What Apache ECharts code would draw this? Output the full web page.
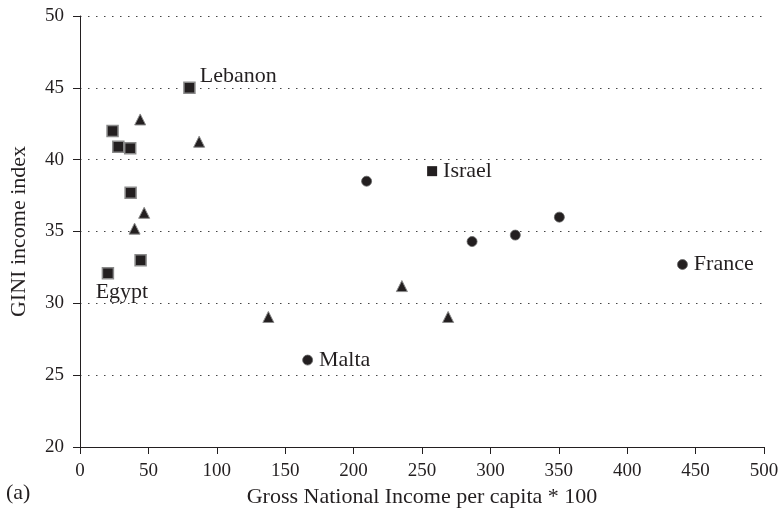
<!DOCTYPE html>
<html><head><meta charset="utf-8">
<script src="https://cdn.jsdelivr.net/npm/echarts@6/dist/echarts.min.js"></script>
<style>html,body{margin:0;padding:0;background:#fff}#c{width:783px;height:519px}</style>
</head><body><div id="c"></div>
<script>
// Squares
const squareX = [80, 23.8, 28, 36.7, 37, 44.3, 20.4, 257.4];
const squareY = [45.0, 42.0, 40.9, 40.8, 37.7, 33.0, 32.1, 39.2];
const squareNames = ['Lebanon', '', '', '', '', '', 'Egypt', 'Israel'];
// Triangles
const triX = [44, 87.1, 46.9, 39.9, 137.7, 235.3, 269.1];
const triY = [42.8, 41.25, 36.3, 35.2, 29.05, 31.2, 29.05];
// Circles
const circX = [209.5, 286.6, 318.2, 350.4, 166.4, 440.4];
const circY = [38.5, 34.3, 34.75, 36.0, 26.05, 32.7];
const circNames = ['', '', '', '', 'Malta', 'France'];
const xTicks = [0, 50, 100, 150, 200, 250, 300, 350, 400, 450, 500];
const yTicks = [20, 25, 30, 35, 40, 45, 50];

const FONT = '"Liberation Serif", "Times New Roman", serif';
const INK = '#231f20';

function labelFor(name) {
  if (!name) return undefined;
  if (name === 'Egypt') return {show: true, position: 'bottom', offset: [14, -3], formatter: name};
  if (name === 'Lebanon') return {show: true, position: 'right', distance: 4, offset: [0, -12], formatter: name};
  return {show: true, position: 'right', distance: 6, formatter: name};
}

const squareData = squareX.map((x, i) => {
  const d = {value: [x, squareY[i]], label: labelFor(squareNames[i])};
  if (squareNames[i] === 'Israel') { d.symbolSize = 10; d.itemStyle = {borderWidth: 0}; }
  return d;
});
const triData = triX.map((x, i) => ({value: [x, triY[i]]}));
const circData = circX.map((x, i) => ({value: [x, circY[i]], label: labelFor(circNames[i])}));

const chart = echarts.init(document.getElementById('c'), null, {renderer: 'canvas'});
const labelStyle = {color: INK, fontFamily: FONT, fontSize: 22};
chart.setOption({
  animation: false,
  backgroundColor: '#fff',
  grid: {left: 79, right: 19, top: 16, bottom: 72, containLabel: false},
  xAxis: {
    type: 'value', min: 0, max: 500, interval: 50,
    name: 'Gross National Income per capita * 100', nameLocation: 'middle', nameGap: 36,
    nameTextStyle: {color: INK, fontFamily: FONT, fontSize: 22},
    axisLine: {show: true, lineStyle: {color: INK, width: 1}},
    axisTick: {show: true, length: 7, lineStyle: {color: INK}},
    axisLabel: {color: INK, fontFamily: FONT, fontSize: 19, margin: 15,
      formatter: v => xTicks.includes(v) ? String(v) : ''},
    splitLine: {show: false}
  },
  yAxis: {
    type: 'value', min: 20, max: 50, interval: 5,
    name: 'GINI income index', nameLocation: 'middle', nameGap: 50,
    nameTextStyle: {color: INK, fontFamily: FONT, fontSize: 22},
    axisLine: {show: true, lineStyle: {color: INK, width: 1}},
    axisTick: {show: true, length: 7, lineStyle: {color: INK}},
    axisLabel: {color: INK, fontFamily: FONT, fontSize: 19, margin: 16,
      formatter: v => yTicks.includes(v) ? String(v) : ''},
    splitLine: {show: true, lineStyle: {color: '#444', width: 1, type: [1.5, 6.5]}}
  },
  graphic: [{type: 'text', left: 6, top: 482, style: {text: '(a)', fill: INK, font: '22px ' + FONT}}],
  series: [
    {type: 'scatter', name: 'squares', symbol: 'rect', symbolSize: 11, data: squareData,
      itemStyle: {color: INK, borderColor: '#8a8a8a', borderWidth: 1.5, opacity: 1},
      label: labelStyle},
    {type: 'scatter', name: 'triangles', symbol: 'triangle', symbolSize: 11, data: triData,
      itemStyle: {color: INK, borderColor: '#8a8a8a', borderWidth: 1, opacity: 1}},
    {type: 'scatter', name: 'circles', symbol: 'circle', symbolSize: 10, data: circData,
      itemStyle: {color: INK, borderColor: '#666', borderWidth: 0.8, opacity: 1},
      label: labelStyle}
  ]
});
</script></body></html>
